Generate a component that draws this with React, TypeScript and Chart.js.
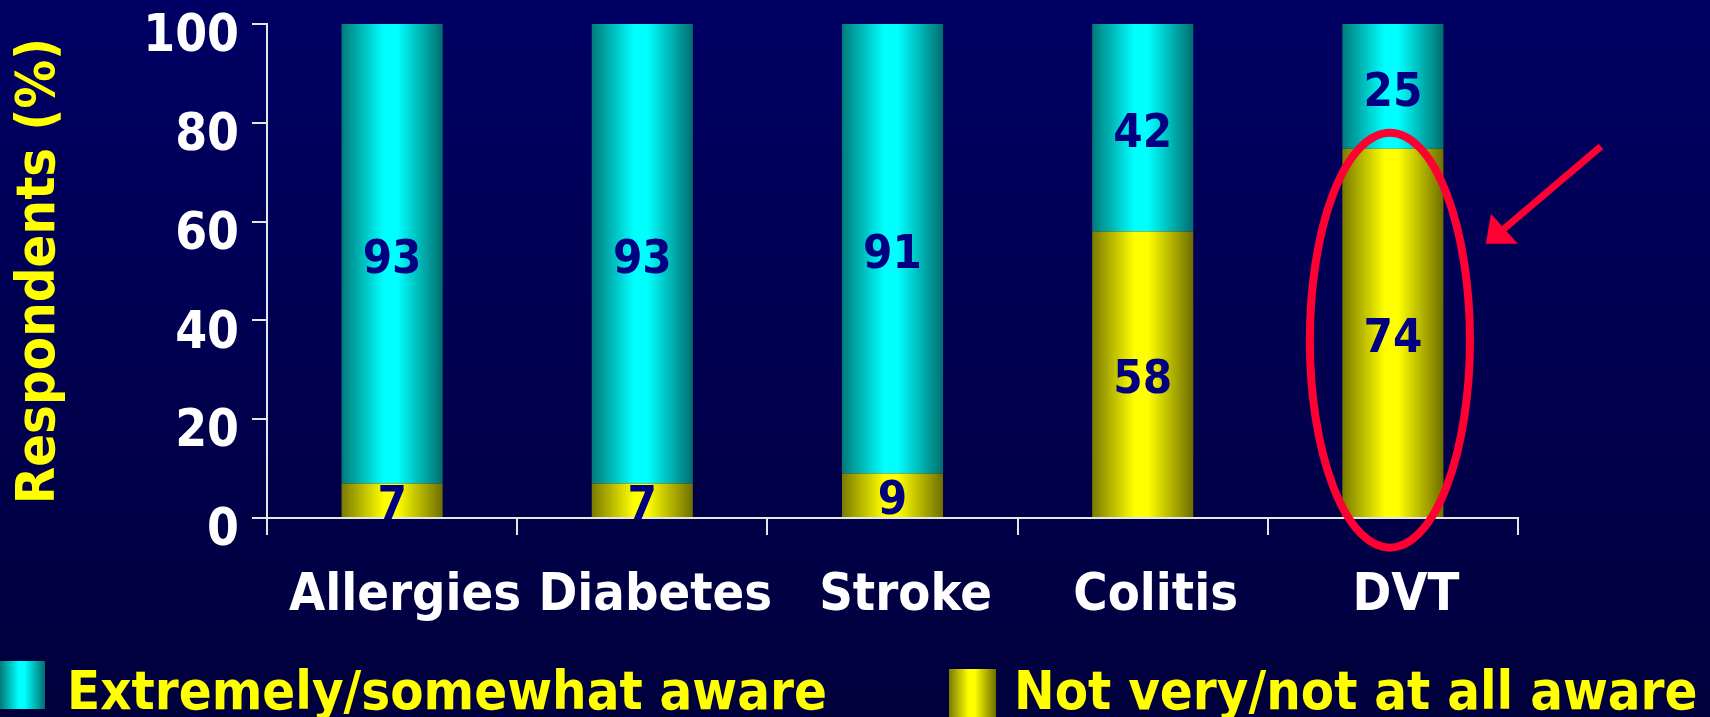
import React, { useEffect, useRef } from 'react';
import { Chart, registerables } from 'chart.js';

Chart.register(...registerables);

// ---- Data ----
const categories = ['Allergies', 'Diabetes', 'Stroke', 'Colitis', 'DVT'];
const awareValues = [93, 93, 91, 42, 25];
const notAwareValues = [7, 7, 9, 58, 74];
const seriesNames = ['Extremely/somewhat aware', 'Not very/not at all aware'];
const yTickValues = [0, 20, 40, 60, 80, 100];
const yTitle = 'Respondents (%)';
const highlightCategory = 'DVT';

// ---- Styling ----
const FONT = "'DejaVu Sans Condensed', 'DejaVu Sans', sans-serif";
const BAR_PCT = 0.404;
const CYAN_STOPS: [number, string][] = [[0, '#007a7a'], [0.42, '#00ffff'], [0.55, '#00ffff'], [1, '#006e6e']];
const YELLOW_STOPS: [number, string][] = [[0, '#7a7a00'], [0.42, '#ffff00'], [0.55, '#ffff00'], [1, '#6e6e00']];
const LABEL_COLOR = '#000080';
const RED = '#ff0033';

// 100% stacked: plot shares of each total, label with raw values
const totals = categories.map((_, i) => awareValues[i] + notAwareValues[i]);
const awarePct = awareValues.map((v, i) => (v / totals[i]) * 100);
const notAwarePct = notAwareValues.map((v, i) => (v / totals[i]) * 100);

function hGradient(ctx: CanvasRenderingContext2D, x0: number, x1: number, stops: [number, string][]) {
  const g = ctx.createLinearGradient(x0, 0, x1, 0);
  stops.forEach(([o, c]) => g.addColorStop(o, c));
  return g;
}

function barFill(stops: [number, string][], fallback: string) {
  return (c: any) => {
    const chart = c.chart;
    const xs = chart.scales && chart.scales.x;
    if (!xs || c.dataIndex === undefined || !isFinite(xs.width) || xs.width <= 0) return fallback;
    const cx = xs.getPixelForValue(c.dataIndex);
    const w = (xs.width / categories.length) * BAR_PCT;
    return hGradient(chart.ctx, cx - w / 2, cx + w / 2, stops);
  };
}

const backgroundPlugin = {
  id: 'bg',
  beforeDraw(chart: any) {
    const { ctx, width, height } = chart;
    const g = ctx.createLinearGradient(0, 0, 0, height);
    g.addColorStop(0, 'rgb(0,0,100)');
    g.addColorStop(1, 'rgb(0,0,60)');
    ctx.save();
    ctx.fillStyle = g;
    ctx.fillRect(0, 0, width, height);
    ctx.restore();
  },
};

const valueLabelPlugin = {
  id: 'valueLabels',
  afterDatasetsDraw(chart: any) {
    const { ctx } = chart;
    ctx.save();
    ctx.font = `bold 47px ${FONT}`;
    ctx.fillStyle = LABEL_COLOR;
    ctx.textAlign = 'center';
    ctx.textBaseline = 'middle';
    chart.data.datasets.forEach((ds: any, di: number) => {
      const meta = chart.getDatasetMeta(di);
      meta.data.forEach((el: any, i: number) => {
        const raw = ds.rawValues[i];
        const y = (el.y + el.base) / 2;
        ctx.fillText(String(raw), el.x, y + 7);
      });
    });
    ctx.restore();
  },
};

const annotationPlugin = {
  id: 'highlight',
  afterDraw(chart: any) {
    const { ctx } = chart;
    const xs = chart.scales.x;
    const ys = chart.scales.y;
    const idx = categories.indexOf(highlightCategory);
    const cx = xs.getPixelForValue(idx) - 3;
    const catW = xs.width / categories.length;
    const cy = ys.getPixelForValue(36);
    const rx = catW * 0.32;
    const ry = ys.getPixelForValue(0) - ys.getPixelForValue(42);
    ctx.save();
    ctx.strokeStyle = RED;
    ctx.lineWidth = 8;
    ctx.beginPath();
    ctx.ellipse(cx, cy, rx, ry, 0, 0, Math.PI * 2);
    ctx.stroke();

    // arrow
    const tipX = cx + 96;
    const tipY = ys.getPixelForValue(55.5);
    const tailX = cx + 211;
    const tailY = ys.getPixelForValue(75.2);
    const baseX = tipX + 18;
    const baseY = tipY - 15;
    ctx.lineWidth = 7;
    ctx.lineCap = 'butt';
    ctx.beginPath();
    ctx.moveTo(tailX, tailY);
    ctx.lineTo(baseX, baseY);
    ctx.stroke();
    ctx.fillStyle = RED;
    ctx.beginPath();
    ctx.moveTo(tipX, tipY);
    ctx.lineTo(tipX + 5, tipY - 30);
    ctx.lineTo(tipX + 32, tipY);
    ctx.closePath();
    ctx.fill();
    ctx.restore();
  },
};

const legendPlugin = {
  id: 'customLegend',
  afterDraw(chart: any) {
    const { ctx } = chart;
    const items = [
      { name: seriesNames[0], stops: CYAN_STOPS, box: [0, 661, 45, 48], textX: 67 },
      { name: seriesNames[1], stops: YELLOW_STOPS, box: [949, 669, 47, 48], textX: 1014 },
    ];
    ctx.save();
    items.forEach((it) => {
      const [bx, by, bw, bh] = it.box;
      ctx.fillStyle = hGradient(ctx, bx, bx + bw, it.stops);
      ctx.fillRect(bx, by, bw, bh);
      ctx.font = `bold 54px ${FONT}`;
      ctx.fillStyle = '#ffff00';
      ctx.textAlign = 'left';
      ctx.textBaseline = 'alphabetic';
      ctx.fillText(it.name, it.textX, 709);
    });
    ctx.restore();
  },
};

export default function App() {
  const canvasRef = useRef<HTMLCanvasElement | null>(null);

  useEffect(() => {
    document.body.style.margin = '0';
    const canvas = canvasRef.current;
    if (!canvas) return;
    const chart = new Chart(canvas, {
      type: 'bar',
      data: {
        labels: categories,
        datasets: [
          {
            label: seriesNames[1],
            data: notAwarePct,
            rawValues: notAwareValues,
            backgroundColor: barFill(YELLOW_STOPS, '#ffff00'),
            borderWidth: 0,
            barPercentage: BAR_PCT,
            categoryPercentage: 1,
          } as any,
          {
            label: seriesNames[0],
            data: awarePct,
            rawValues: awareValues,
            backgroundColor: barFill(CYAN_STOPS, '#00ffff'),
            borderWidth: 0,
            barPercentage: BAR_PCT,
            categoryPercentage: 1,
          } as any,
        ],
      },
      options: {
        responsive: false,
        animation: false,
        devicePixelRatio: 1,
        layout: { padding: { top: 24, right: 192, bottom: 0, left: 0 } },
        plugins: {
          legend: { display: false },
          tooltip: { enabled: false },
        },
        scales: {
          x: {
            stacked: true,
            z: 1,
            afterFit: (s: any) => {
              s.height = 199;
            },
            grid: {
              display: true,
              offset: true,
              drawOnChartArea: false,
              drawTicks: true,
              tickLength: 17,
              color: '#e6e6e6',
              lineWidth: 2,
            },
            border: { display: true, color: '#e6e6e6', width: 2 },
            ticks: {
              color: '#ffffff',
              font: { family: FONT, weight: 'bold', size: 52, lineHeight: 1.2 },
              padding: 30,
              labelOffset: 13,
              maxRotation: 0,
              autoSkip: false,
            },
          },
          y: {
            stacked: true,
            min: 0,
            max: 100,
            afterFit: (s: any) => {
              s.width = 267;
            },
            afterBuildTicks: (s: any) => {
              s.ticks = yTickValues.map((v) => ({ value: v }));
            },
            grid: {
              display: true,
              drawOnChartArea: false,
              drawTicks: true,
              tickLength: 15,
              color: '#e6e6e6',
              lineWidth: 2,
            },
            border: { display: true, color: '#e6e6e6', width: 2 },
            ticks: {
              color: '#ffffff',
              font: { family: FONT, weight: 'bold', size: 51, lineHeight: 0.2 },
              padding: 13,
              labelOffset: 14,
            },
            title: {
              display: true,
              text: yTitle,
              color: '#ffff00',
              font: { family: FONT, weight: 'bold', size: 54, lineHeight: 1.2 },
              padding: { top: 8, bottom: 0 },
            },
          },
        },
      },
      plugins: [backgroundPlugin, valueLabelPlugin, annotationPlugin, legendPlugin],
    } as any);
    return () => chart.destroy();
  }, []);

  return (
    <div style={{ position: 'absolute', left: 0, top: 0, width: 1710, height: 717 }}>
      <canvas ref={canvasRef} width={1710} height={717} style={{ display: 'block', width: 1710, height: 717 }} />
    </div>
  );
}
